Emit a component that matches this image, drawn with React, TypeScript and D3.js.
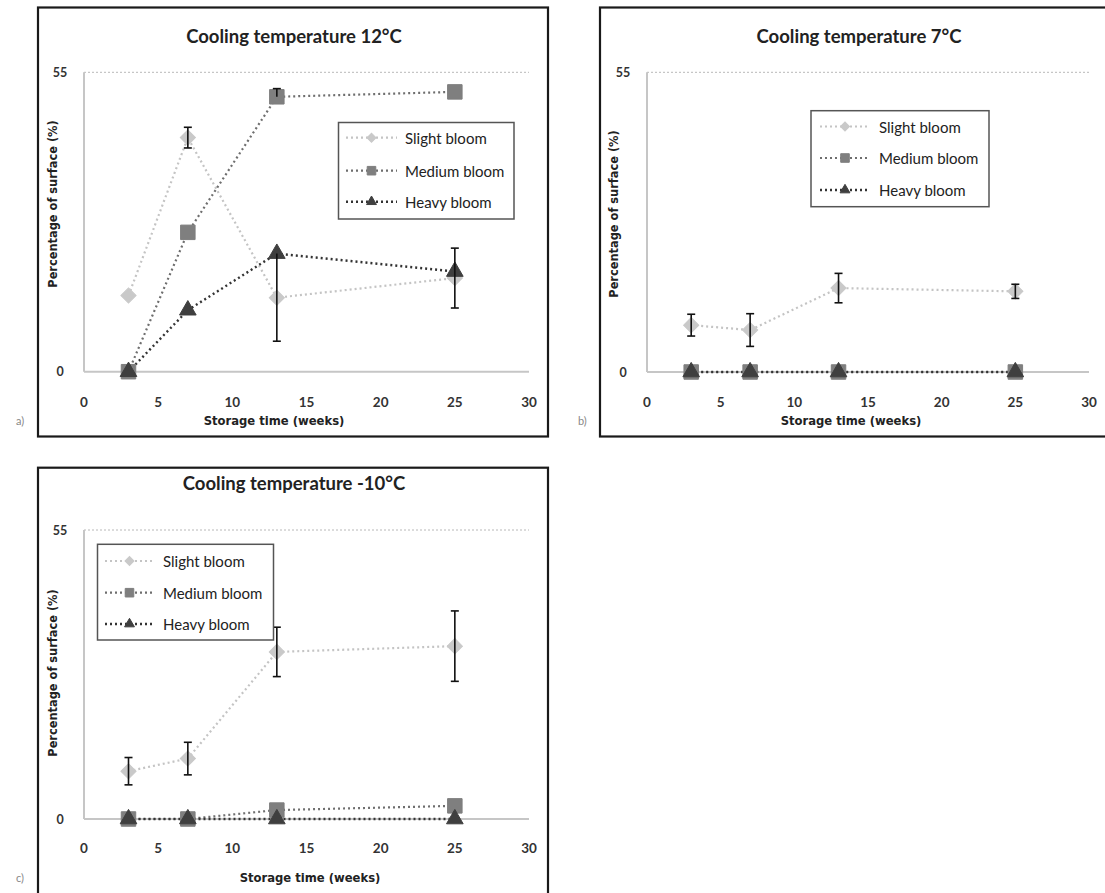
import React from "react";
import * as d3 from "d3";

// Storage time (weeks) at which samples were measured
const weeks = [3, 7, 13, 25];

// Percentage of surface covered by bloom, per cooling temperature
const slight12 = [14.0, 43.0, 13.6, 17.2];
const medium12 = [0, 25.6, 50.5, 51.4];
const heavy12 = [0, 11.3, 21.7, 18.4];

const slight7 = [8.6, 7.7, 15.4, 14.8];
const medium7 = [0, 0, 0, 0];
const heavy7 = [0, 0, 0, 0];

const slightM10 = [9.1, 11.5, 31.8, 32.9];
const mediumM10 = [0, 0, 1.7, 2.5];
const heavyM10 = [0, 0, 0, 0];

// Error bars: [minus, plus] for each week (null = no bar)
type Err = [number, number] | null;
const slight12Err: Err[] = [null, [1.9, 1.9], null, [5.5, 5.5]];
const medium12Err: Err[] = [null, null, [0, 1.5], null];
const heavy12Err: Err[] = [null, null, [16.1, 0], null];

const slight7Err: Err[] = [[2.0, 2.0], [3.0, 3.0], [2.7, 2.7], [1.3, 1.3]];
const slightM10Err: Err[] = [[2.6, 2.6], [3.1, 3.1], [4.7, 4.7], [6.7, 6.7]];
const noErr: Err[] = [null, null, null, null];

const xTicks = [0, 5, 10, 15, 20, 25, 30];
const yTicks = [0, 55];
const seriesNames = ["Slight bloom", "Medium bloom", "Heavy bloom"];

const FONT = "Lato, 'Liberation Sans', sans-serif";
const WIDE = "'DejaVu Sans', Verdana, sans-serif";

type Style = { fill: string; line: string; dash: string; width: number; shape: "diamond" | "square" | "triangle"; size: number };
const styles: Style[] = [
  { fill: "#c9c9c9", line: "#c4c4c4", dash: "2,3", width: 2.2, shape: "diamond", size: 115 },
  { fill: "#7f7f7f", line: "#6e6e6e", dash: "2,3", width: 2.2, shape: "square", size: 210 },
  { fill: "#3f3f3f", line: "#333333", dash: "2,3", width: 2.4, shape: "triangle", size: 120 },
];

type PanelProps = {
  frame: [number, number, number, number];
  title: string;
  titleX: number;
  titleY: number;
  x0: number;
  x1: number;
  yTop: number;
  yBottom: number;
  series: number[][];
  errors: Err[][];
  legend: { x: number; y: number; w: number; h: number; rows: number[]; lineX0: number; lineX1: number; textX: number };
  xTitle: { x: number; y: number };
  yTitle: { x: number; y: number };
  xTickY: number;
  tag: { text: string; x: number; y: number };
};

function Marker({ shape, size, fill, x, y }: { shape: string; size: number; fill: string; x: number; y: number }) {
  const sym = shape === "triangle" ? d3.symbolTriangle : d3.symbolSquare;
  const path = d3.symbol().type(sym).size(size)() || "";
  const rot = shape === "diamond" ? " rotate(45)" : "";
  return <path d={path} transform={`translate(${x},${y})${rot}`} fill={fill} stroke={fill} strokeWidth={1} />;
}

function Panel(p: PanelProps) {
  const xs = d3.scaleLinear().domain([0, 30]).range([p.x0, p.x1]);
  const ys = d3.scaleLinear().domain([0, 55]).range([p.yBottom, p.yTop]);
  const line = d3
    .line<number>()
    .x((_, i) => xs(weeks[i]))
    .y((d) => ys(d));
  const [fx, fy, fw, fh] = p.frame;
  return (
    <g>
      <rect x={fx} y={fy} width={fw} height={fh} fill="#fff" stroke="#1a1a1a" strokeWidth={2.2} />
      <text x={p.titleX} y={p.titleY} textAnchor="middle" dominantBaseline="central" fontFamily={FONT} fontWeight={700} fontSize={18.5} fill="#222">
        {p.title}
      </text>
      {/* reference line at 55 */}
      <line x1={p.x0} x2={p.x1} y1={ys(55)} y2={ys(55)} stroke="#b8b8b8" strokeWidth={1} strokeDasharray="2,2" />
      {/* axes */}
      <line x1={p.x0} x2={p.x0} y1={ys(55)} y2={ys(0)} stroke="#c6c6c6" strokeWidth={2} />
      <line x1={p.x0} x2={p.x1} y1={ys(0)} y2={ys(0)} stroke="#c6c6c6" strokeWidth={2} />
      {yTicks.map((t) => (
        <text key={t} x={p.x0 - 24} y={ys(t)} textAnchor="middle" dominantBaseline="central" fontFamily={FONT} fontWeight={700} fontSize={12.5} fill="#333">
          {t}
        </text>
      ))}
      {xTicks.map((t) => (
        <text key={t} x={xs(t)} y={p.xTickY} textAnchor="middle" dominantBaseline="central" fontFamily={FONT} fontWeight={700} fontSize={13.5} fill="#333">
          {t}
        </text>
      ))}
      <text x={p.xTitle.x} y={p.xTitle.y} textAnchor="middle" dominantBaseline="central" fontFamily={WIDE} fontWeight={700} fontSize={11.6} fill="#222">
        Storage time (weeks)
      </text>
      <text
        transform={`translate(${p.yTitle.x},${p.yTitle.y}) rotate(-90)`}
        textAnchor="middle"
        dominantBaseline="central"
        fontFamily={WIDE}
        fontWeight={700}
        fontSize={11.4}
        fill="#222"
      >
        Percentage of surface (%)
      </text>
      {/* series lines */}
      {p.series.map((s, k) => (
        <path key={"l" + k} d={line(s) || ""} fill="none" stroke={styles[k].line} strokeWidth={styles[k].width} strokeDasharray={styles[k].dash} />
      ))}
      {/* markers */}
      {p.series.map((s, k) =>
        s.map((v, i) => (
          <Marker key={`m${k}-${i}`} shape={styles[k].shape} size={styles[k].size} fill={styles[k].fill} x={xs(weeks[i])} y={ys(v)} />
        ))
      )}
      {/* error bars */}
      {p.errors.map((es, k) =>
        es.map((e, i) => {
          if (!e) return null;
          const v = p.series[k][i];
          const cx = xs(weeks[i]);
          const lo = ys(v - e[0]);
          const hi = ys(v + e[1]);
          return (
            <g key={`e${k}-${i}`} stroke="#111" strokeWidth={1.6}>
              <line x1={cx} x2={cx} y1={lo} y2={hi} />
              {e[0] > 0 && <line x1={cx - 4} x2={cx + 4} y1={lo} y2={lo} />}
              {e[1] > 0 && <line x1={cx - 4} x2={cx + 4} y1={hi} y2={hi} />}
            </g>
          );
        })
      )}
      {/* legend */}
      <rect x={p.legend.x} y={p.legend.y} width={p.legend.w} height={p.legend.h} fill="#fff" stroke="#555" strokeWidth={1.5} />
      {seriesNames.map((n, k) => {
        const ry = p.legend.rows[k];
        const mx = (p.legend.lineX0 + p.legend.lineX1) / 2;
        return (
          <g key={n}>
            <line x1={p.legend.lineX0} x2={p.legend.lineX1} y1={ry} y2={ry} stroke={styles[k].line} strokeWidth={styles[k].width} strokeDasharray={styles[k].dash} />
            <Marker shape={styles[k].shape} size={styles[k].size * 0.35} fill={styles[k].fill} x={mx} y={ry} />
            <text x={p.legend.textX} y={ry} dominantBaseline="central" fontFamily={FONT} fontSize={15} fill="#222">
              {n}
            </text>
          </g>
        );
      })}
      <text x={p.tag.x} y={p.tag.y} dominantBaseline="central" fontFamily={FONT} fontSize={11} fill="#888">
        {p.tag.text}
      </text>
    </g>
  );
}

export default function App() {
  return (
    <svg width={1105} height={893} style={{ position: "absolute", left: 0, top: 0, background: "#fff" }}>
      <Panel
        frame={[38, 7.5, 510, 429]}
        title="Cooling temperature 12°C"
        titleX={294}
        titleY={35.5}
        x0={84}
        x1={529}
        yTop={72.3}
        yBottom={371.7}
        series={[slight12, medium12, heavy12]}
        errors={[slight12Err, medium12Err, heavy12Err]}
        legend={{ x: 338.5, y: 122.5, w: 175.5, h: 96.5, rows: [137.7, 170.7, 201.7], lineX0: 346, lineX1: 397, textX: 405 }}
        xTitle={{ x: 274, y: 420.5 }}
        yTitle={{ x: 52.5, y: 204 }}
        xTickY={401.5}
        tag={{ text: "a)", x: 16, y: 420.5 }}
      />
      <Panel
        frame={[600, 7.5, 520, 429]}
        title="Cooling temperature 7°C"
        titleX={859}
        titleY={35.5}
        x0={647}
        x1={1089}
        yTop={72.3}
        yBottom={372}
        series={[slight7, medium7, heavy7]}
        errors={[slight7Err, noErr, noErr]}
        legend={{ x: 811, y: 110.7, w: 178, h: 96, rows: [126.5, 158, 190], lineX0: 820, lineX1: 870, textX: 879 }}
        xTitle={{ x: 851, y: 420.5 }}
        yTitle={{ x: 614, y: 214 }}
        xTickY={401.5}
        tag={{ text: "b)", x: 578, y: 420.5 }}
      />
      <Panel
        frame={[38, 467.7, 510, 440]}
        title="Cooling temperature -10°C"
        titleX={294}
        titleY={482.5}
        x0={84}
        x1={529}
        yTop={530}
        yBottom={819}
        series={[slightM10, mediumM10, heavyM10]}
        errors={[slightM10Err, noErr, noErr]}
        legend={{ x: 97.5, y: 544.3, w: 176, h: 95.7, rows: [561, 592.7, 624], lineX0: 105, lineX1: 154, textX: 163 }}
        xTitle={{ x: 310, y: 878 }}
        yTitle={{ x: 53, y: 673 }}
        xTickY={848}
        tag={{ text: "c)", x: 16, y: 877 }}
      />
    </svg>
  );
}
